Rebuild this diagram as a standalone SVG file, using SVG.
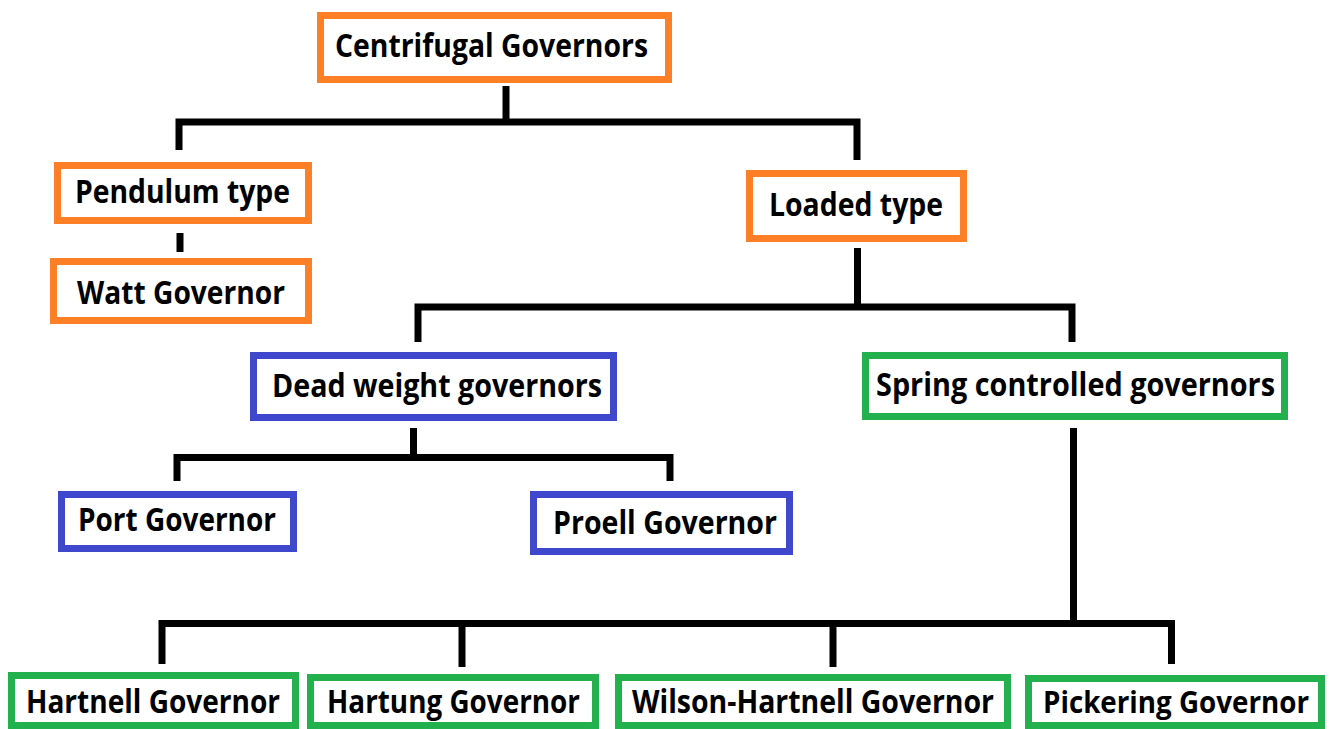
<svg xmlns="http://www.w3.org/2000/svg" width="1331" height="729" viewBox="0 0 1331 729">
  <style>
    .box { fill: #ffffff; stroke-width: 7; }
    .orange { stroke: #FF7F27; }
    .blue { stroke: #3F48CC; }
    .green { stroke: #22B14C; }
    .label { font-family: "Open Sans", "Noto Sans", "Liberation Sans", sans-serif; font-weight: 700; font-size: 32px; fill: #000000; }
    .small { font-size: 30px; }
    .link { fill: none; stroke: #000000; stroke-width: 7; stroke-linecap: butt; stroke-linejoin: miter; }
  </style>
  <rect width="1331" height="729" fill="#ffffff"/>

  <!-- tree connectors -->
  <g id="connectors">
    <path class="link" d="M506 86 V122"/>
    <path class="link" d="M179 150 V122 H857 V160"/>
    <path class="link" d="M180 233 V252"/>
    <path class="link" d="M857.5 248 V307"/>
    <path class="link" d="M418 342 V307 H1072 V342"/>
    <path class="link" d="M413.5 428 V457.5"/>
    <path class="link" d="M177 481 V457.5 H670 V481"/>
    <path class="link" d="M1073.5 428 V623.5"/>
    <path class="link" d="M162 664 V623.5 H1171.5 V664"/>
    <path class="link" d="M462 667 V623.5"/>
    <path class="link" d="M833 667 V623.5"/>
  </g>

  <g id="centrifugal">
    <rect class="box orange" x="320.5" y="15.5" width="348" height="64"/>
    <text class="label" x="335" y="57" textLength="313" lengthAdjust="spacingAndGlyphs">Centrifugal Governors</text>
  </g>
  <g id="pendulum">
    <rect class="box orange" x="57.5" y="165.5" width="251" height="55"/>
    <text class="label" x="75" y="203" textLength="215" lengthAdjust="spacingAndGlyphs">Pendulum type</text>
  </g>
  <g id="watt">
    <rect class="box orange" x="53.5" y="261.5" width="255" height="59"/>
    <text class="label" x="77" y="304" textLength="208" lengthAdjust="spacingAndGlyphs">Watt Governor</text>
  </g>
  <g id="loaded">
    <rect class="box orange" x="749.5" y="173.5" width="214" height="65"/>
    <text class="label" x="769" y="216" textLength="174" lengthAdjust="spacingAndGlyphs">Loaded type</text>
  </g>
  <g id="dead-weight">
    <rect class="box blue" x="253.5" y="355.5" width="360" height="62"/>
    <text class="label" x="272" y="397" textLength="330" lengthAdjust="spacingAndGlyphs">Dead weight governors</text>
  </g>
  <g id="spring">
    <rect class="box green" x="865.5" y="355.5" width="419" height="61"/>
    <text class="label" x="876" y="396" textLength="399" lengthAdjust="spacingAndGlyphs">Spring controlled governors</text>
  </g>
  <g id="port">
    <rect class="box blue" x="61.5" y="494.5" width="232" height="54"/>
    <text class="label" x="78" y="531" textLength="198" lengthAdjust="spacingAndGlyphs">Port Governor</text>
  </g>
  <g id="proell">
    <rect class="box blue" x="533.5" y="494.5" width="256" height="57"/>
    <text class="label" x="553" y="534" textLength="224" lengthAdjust="spacingAndGlyphs">Proell Governor</text>
  </g>
  <g id="hartnell">
    <rect class="box green" x="11.5" y="675.5" width="284" height="50"/>
    <text class="label" x="26" y="713" textLength="254" lengthAdjust="spacingAndGlyphs">Hartnell Governor</text>
  </g>
  <g id="hartung">
    <rect class="box green" x="310.5" y="677.5" width="285" height="48"/>
    <text class="label" x="327" y="713" textLength="253" lengthAdjust="spacingAndGlyphs">Hartung Governor</text>
  </g>
  <g id="wilson-hartnell">
    <rect class="box green" x="618.5" y="677.5" width="389" height="48"/>
    <text class="label" x="632" y="713" textLength="362" lengthAdjust="spacingAndGlyphs">Wilson-Hartnell Governor</text>
  </g>
  <g id="pickering">
    <rect class="box green" x="1028.5" y="678.5" width="293" height="47"/>
    <text class="label small" x="1043" y="713" textLength="266" lengthAdjust="spacingAndGlyphs">Pickering Governor</text>
  </g>
</svg>
